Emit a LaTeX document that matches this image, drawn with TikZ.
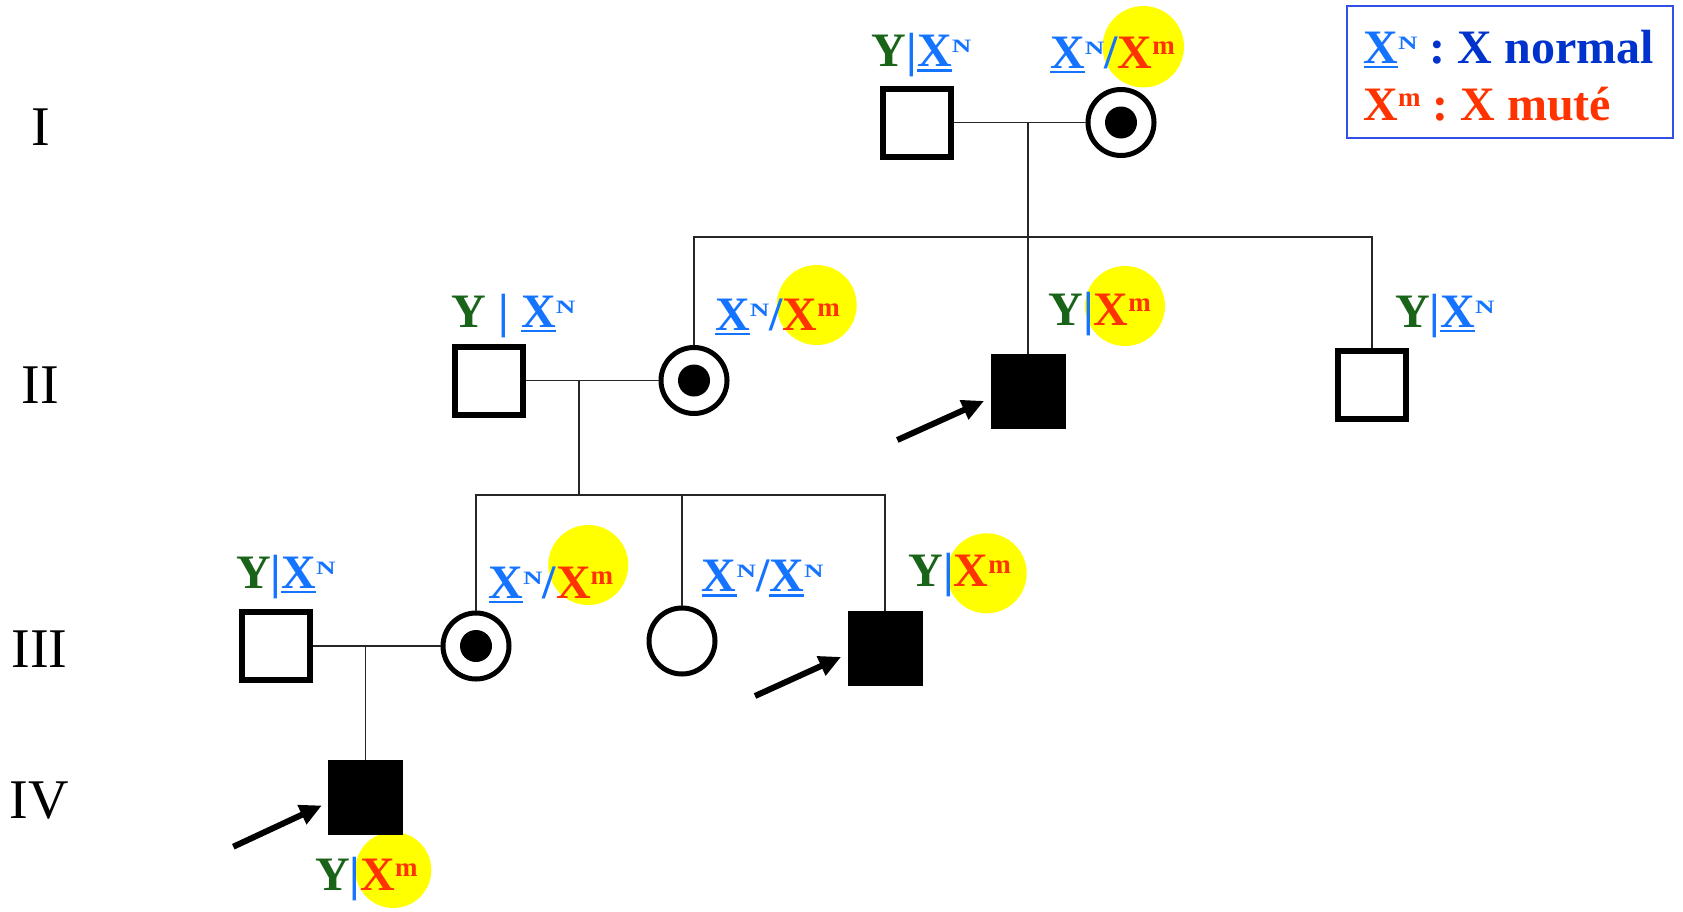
\documentclass[tikz,border=0pt]{standalone}
\usepackage{fontspec}
\usepackage{graphicx}
\setmainfont{Liberation Serif}
\usetikzlibrary{arrows.meta}
\definecolor{ygreen}{RGB}{25,100,25}
\definecolor{xblue}{RGB}{20,115,255}
\definecolor{xred}{RGB}{255,51,0}
\definecolor{hl}{RGB}{255,255,0}
\definecolor{lblue}{RGB}{0,51,204}
\definecolor{lborder}{RGB}{50,80,230}
\newcommand\ulX{\begingroup\setbox0\hbox{X}\rlap{\rule[-5pt]{\wd0}{2.4pt}}\box0\endgroup}
\newcommand\supN{\raisebox{14pt}{\fontsize{27}{27}\selectfont\scalebox{1}[0.7]{N}}}
\newcommand\supm{\raisebox{13.5pt}{\fontsize{27}{27}\selectfont m}}
\newcommand\XN{\textcolor{xblue}{\ulX\supN}}
\newcommand\Xm{\textcolor{xred}{X\supm}}
\newcommand\Yg{\textcolor{ygreen}{Y}}
\newcommand\bbar{\textcolor{xblue}{|}}
\newcommand\slb{\textcolor{xblue}{/}}
\begin{document}
\begin{tikzpicture}[x=1pt,y=-1pt,
  male/.style={rectangle,draw=black,line width=6pt,minimum size=68pt,inner sep=0pt,fill=white},
  affmale/.style={rectangle,draw=black,fill=black,line width=1pt,minimum size=74pt,inner sep=0pt},
  female/.style={circle,draw=black,line width=5pt,minimum size=66pt,inner sep=0pt,fill=white},
  carrier/.style={female,path picture={\fill[black] (path picture bounding box.center) circle (16pt);}},
  link/.style={line width=1.5pt,black!85},
  lbl/.style={anchor=base west,inner sep=0pt,font=\fontsize{48}{56}\selectfont\bfseries},
  num/.style={anchor=base,inner sep=0pt,font=\fontsize{56}{60}\selectfont},
  hlc/.style={fill=hl,draw=none},
  proband/.style={line width=6pt,-{Triangle[length=22pt,width=20pt]},shorten >=7pt}
]
\useasboundingbox[fill=white] (0,0) rectangle (1683,911);

% generation numerals
\node[num] (gI) at (40.5,145) {I};
\node[num] (gII) at (40.5,403) {II};
\node[num] (gIII) at (39.5,667) {III};
\node[num] (gIV) at (39.5,818) {IV};

% highlight circles
\fill[hlc] (1143.3,46.7) circle (40.7);
\fill[hlc] (816.7,305) circle (40);
\fill[hlc] (1125,306) circle (40);
\fill[hlc] (588.3,565) circle (40);
\fill[hlc] (986.7,573.3) circle (40);
\fill[hlc] (393.3,870) circle (38);

% individuals
\node[male] (I1) at (916.5,122.5) {};
\node[carrier] (I2) at (1121,122.5) {};
\node[male] (II1) at (489,380.5) {};
\node[carrier] (II2) at (694,380.5) {};
\node[affmale] (II3) at (1028,391) {};
\node[male] (II4) at (1372,385) {};
\node[male] (III1) at (275.8,646) {};
\node[carrier] (III2) at (476,646) {};
\node[female] (III3) at (682,641) {};
\node[affmale] (III4) at (885,648) {};
\node[affmale] (IV1) at (365.7,797.5) {};

% coordinates
\coordinate (m1) at (1028,122.5);
\coordinate (s1) at (1028,237);
\coordinate (m2) at (579,380.5);
\coordinate (s2) at (579,495);
\coordinate (m3) at (365.7,646);

% links
\draw[link] (I1.east) -- (I2.west);
\draw[link] (m1) -- (s1);
\draw[link] (II2.north) |- (s1) -| (II4.north);
\draw[link] (s1) -- (II3.north);
\draw[link] (II1.east) -- (II2.west);
\draw[link] (m2) -- (s2);
\draw[link] (III2.north) |- (s2) -| (III4.north);
\draw[link] (III3.north) -- (III3.north |- s2);
\draw[link] (III1.east) -- (III2.west);
\draw[link] (m3) -- (IV1.north);

% genotype labels
\node[lbl] (lI1) at (871.7,66.7) {\Yg\bbar\XN};
\node[lbl] (lI2) at (1050,68) {\XN\slb\Xm};
\node[lbl] (lII1) at (451.7,327.3) {\Yg{} \bbar{} \XN};
\node[lbl] (lII2) at (715,330) {\XN\slb\Xm};
\node[lbl] (lII3) at (1048.3,325) {\Yg\bbar\Xm};
\node[lbl] (lII4) at (1395,327.3) {\Yg\bbar\XN};
\node[lbl] (lIII1) at (236,588.3) {\Yg\bbar\XN};
\node[lbl] (lIII2) at (488.3,598.3) {\XN\slb\Xm};
\node[lbl] (lIII3) at (701.7,591.7) {\XN\slb\XN};
\node[lbl] (lIII4) at (908.3,586.7) {\Yg\bbar\Xm};
\node[lbl] (lIV1) at (315,890) {\Yg\bbar\Xm};

% proband arrows
\coordinate (a1) at (897.3,440);
\coordinate (a2) at (755,696);
\coordinate (a3) at (233.3,846.7);
\draw[proband] (a1) -- ([yshift=-7pt]II3.west);
\draw[proband] (a2) -- ([yshift=-6pt]III4.west);
\draw[proband] (a3) -- ([yshift=-5pt]IV1.west);

% legend
\node[draw=lborder,line width=2pt,minimum width=326.6pt,minimum height=132.3pt,inner sep=0pt] (legend) at (1510,72.2) {};
\node[lbl] (leg1) at (1363.3,63.3) {\XN\textcolor{lblue}{\ :\ X normal}};
\node[lbl] (leg2) at (1363.3,120) {\textcolor{xred}{X\supm\ :\ X muté}};
\end{tikzpicture}
\end{document}
